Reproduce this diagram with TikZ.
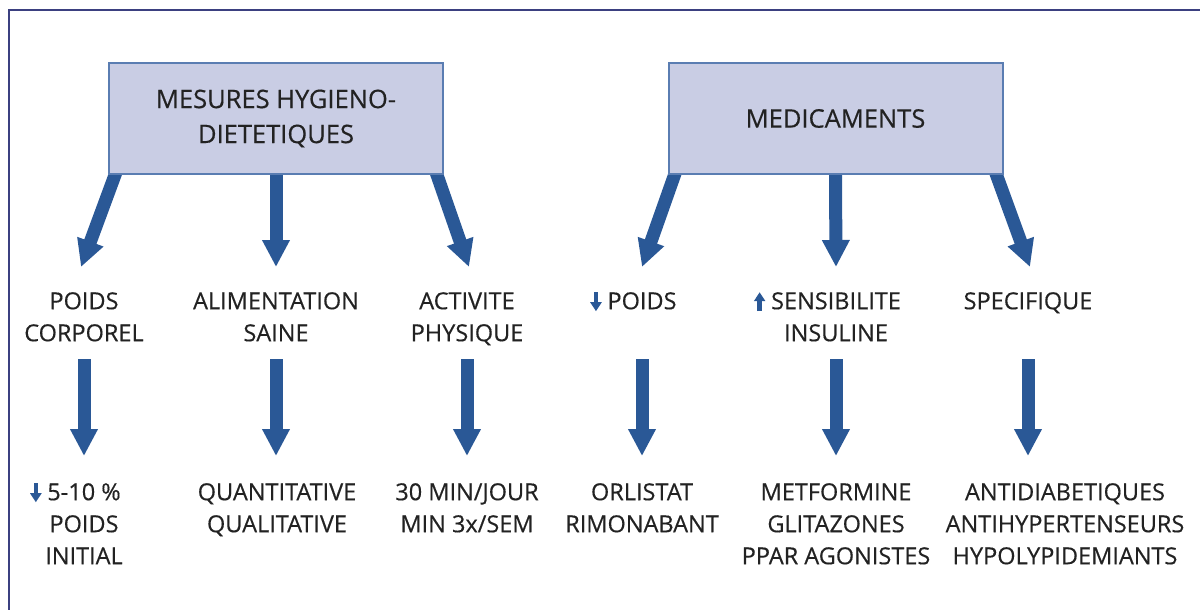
\documentclass[tikz,border=0pt]{standalone}
\usepackage{fontspec}
\setmainfont{Open Sans}[FakeBold=0.4]
\usetikzlibrary{arrows.meta,backgrounds}

\definecolor{framecol}{HTML}{3B4080}
\definecolor{boxfill}{HTML}{C9CDE4}
\definecolor{boxline}{HTML}{5A7DB2}
\definecolor{arrowblue}{HTML}{2A5896}
\definecolor{textgray}{HTML}{222222}

\tikzset{
  titlebox/.style={draw=boxline, fill=boxfill, line width=2pt, minimum width=334pt,
    minimum height=111pt, align=center, text=textgray, font=\fontsize{25.5}{35}\selectfont},
  itemtext/.style={align=center, text=textgray, inner sep=0pt, font=\fontsize{23.5}{32}\selectfont},
  fatarrow/.style={arrowblue, line width=13pt, -{Triangle[width=26pt,length=27pt]}},
}

% small arrows in front of a line
\newcommand{\dnarr}{\llap{\smash{\tikz[x=1pt,y=1pt,baseline=0pt]\draw[arrowblue,line width=4.5pt,-{Triangle[width=11pt,length=9pt]}] (0,17) -- (0,-2);}\hspace{6pt}}}
\newcommand{\uparr}{\llap{\smash{\tikz[x=1pt,y=1pt,baseline=0pt]\draw[arrowblue,line width=4.5pt,-{Triangle[width=11pt,length=9pt]}] (0,-2) -- (0,17);}\hspace{6pt}}}

\begin{document}
\begin{tikzpicture}[x=1pt, y=-1pt]

  \useasboundingbox (0,0) rectangle (1200,610);
  \draw[framecol, line width=2.5pt] (1210,10) -- (9,10) -- (9,620);

  % the two headings
  \node[titlebox] (hyg) at (276,118.5) {MESURES HYGIENO-\\DIETETIQUES};
  \node[titlebox] (med) at (835.5,118.5) {MEDICAMENTS};

  % first row
  \node[itemtext, anchor=north] (p1) at (84,292) {POIDS\\CORPOREL};
  \node[itemtext, anchor=north] (p2) at (276,292) {ALIMENTATION\\SAINE};
  \node[itemtext, anchor=north] (p3) at (467,292) {ACTIVITE\\PHYSIQUE};
  \node[itemtext, anchor=north] (p4) at (642,292) {\dnarr POIDS};
  \node[itemtext, anchor=north] (p5) at (836,292) {\uparr SENSIBILITE\\INSULINE};
  \node[itemtext, anchor=north] (p6) at (1028,292) {SPECIFIQUE};

  % second row
  \node[itemtext, anchor=north] (q1) at (84,483) {\dnarr 5-10 \%\\POIDS\\INITIAL};
  \node[itemtext, anchor=north] (q2) at (277,483) {QUANTITATIVE\\QUALITATIVE};
  \node[itemtext, anchor=north] (q3) at (467,483) {30 MIN/JOUR\\MIN 3x/SEM};
  \node[itemtext, anchor=north] (q4) at (642,483) {ORLISTAT\\RIMONABANT};
  \node[itemtext, anchor=north] (q5) at (836,483) {METFORMINE\\GLITAZONES\\PPAR AGONISTES};
  \node[itemtext, anchor=north] (q6) at (1065,483) {ANTIDIABETIQUES\\ANTIHYPERTENSEURS\\HYPOLYPIDEMIANTS};

  \coordinate (vtop) at (0,359);
  \coordinate (vbot) at (0,456);

  \begin{scope}[on background layer]
    \draw[fatarrow, shorten <=-10pt] ([xshift=7pt]hyg.south west) -- ([xshift=-3pt,yshift=25pt]p1.north);
    \draw[fatarrow, shorten <=-10pt] (hyg.south) -- ([yshift=25pt]p2.north);
    \draw[fatarrow, shorten <=-10pt] ([xshift=-7pt]hyg.south east) -- ([xshift=2pt,yshift=25pt]p3.north);
    \draw[fatarrow, shorten <=-10pt] ([xshift=7pt]med.south west) -- ([yshift=25pt]p4.north);
    \draw[fatarrow, shorten <=-10pt] (med.south) -- ([yshift=25pt]p5.north);
    \draw[fatarrow, shorten <=-10pt] ([xshift=-7pt]med.south east) -- ([xshift=2pt,yshift=25pt]p6.north);
  \end{scope}

  \foreach \i in {1,...,6}
    \draw[fatarrow] (p\i |- vtop) -- (p\i |- vbot);

\end{tikzpicture}
\end{document}
